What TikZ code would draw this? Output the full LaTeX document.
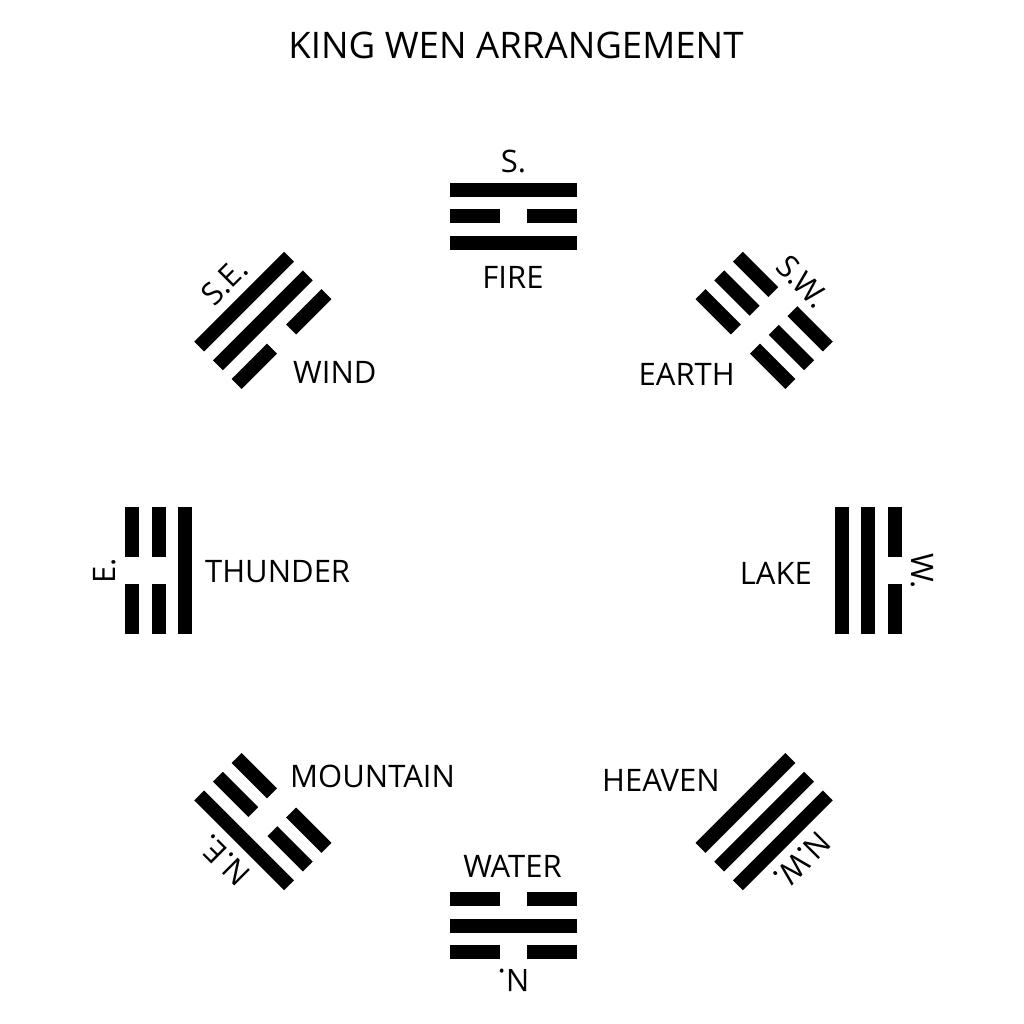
\documentclass[tikz,border=0pt]{standalone}
\usepackage{fontspec}
\setmainfont{Open Sans}
\usetikzlibrary{positioning}

% one trigram: name, angle, bottom, middle, top line (1 = solid, 0 = broken), direction
\newcommand{\trigram}[6]{%
  \coordinate (#1) at (#2:354.5);
  \begin{scope}[shift={(#1)}, rotate=#2-90]
    \foreach \yao [count=\i] in {#3,#4,#5} {
      \pgfmathsetmacro{\ly}{(\i-2)*26.5}
      \ifnum\yao=1
        \fill[yao] (-63.5,\ly-7) rectangle (63.5,\ly+7);
      \else
        \fill[yao] (-63.5,\ly-7) rectangle (-13.5,\ly+7);
        \fill[yao] (13.5,\ly-7) rectangle (63.5,\ly+7);
      \fi
    }
    \node[direction, transform shape] (#1-dir) at (0,43.5) {#6};
  \end{scope}
}

\begin{document}
\begin{tikzpicture}[
    x=1pt, y=1pt,
    yao/.style={fill=black},
    direction/.style={
        anchor=base,
        inner sep=0pt,
        font=\fontsize{31}{35}\selectfont
    },
    element/.style={
        inner sep=0pt,
        font=\fontsize{31}{35}\selectfont
    },
    heading/.style={
        anchor=base,
        inner sep=0pt,
        font=\fontsize{36.6}{40}\selectfont
    }
]
\useasboundingbox[fill=white] (-513.5,-453) rectangle (510.5,571);

% Title
\node[heading] (title) at (2.5,512) {KING WEN ARRANGEMENT};

% Trigrams
\trigram{fire}{90}{1}{0}{1}{S.}
\trigram{earth}{45}{0}{0}{0}{S.W.}
\trigram{lake}{0}{1}{1}{0}{W.}
\trigram{heaven}{-45}{1}{1}{1}{N.W.}
\trigram{water}{-90}{0}{1}{0}{N.}
\trigram{mountain}{-135}{0}{0}{1}{N.E.}
\trigram{thunder}{180}{1}{0}{0}{E.}
\trigram{wind}{135}{0}{1}{1}{S.E.}

% Element names
\node[element, anchor=base] (fire-name) at ([shift={(-0.5,-71.8)}]fire) {FIRE};
\node[element, anchor=base] (water-name) at ([shift={(-1,48.2)}]water) {WATER};
\node[element, anchor=base west] (thunder-name) at ([shift={(46,-12)}]thunder) {THUNDER};
\node[element, anchor=base east] (lake-name) at ([shift={(-56,-14)}]lake) {LAKE};
\node[element, anchor=base west] (wind-name) at ([shift={(30.2,-62.7)}]wind) {WIND};
\node[element, anchor=base east] (earth-name) at ([shift={(-29.2,-64.7)}]earth) {EARTH};
\node[element, anchor=base west] (mountain-name) at ([shift={(27.2,33.7)}]mountain) {MOUNTAIN};
\node[element, anchor=base east] (heaven-name) at ([shift={(-44.2,29.7)}]heaven) {HEAVEN};

\end{tikzpicture}
\end{document}
